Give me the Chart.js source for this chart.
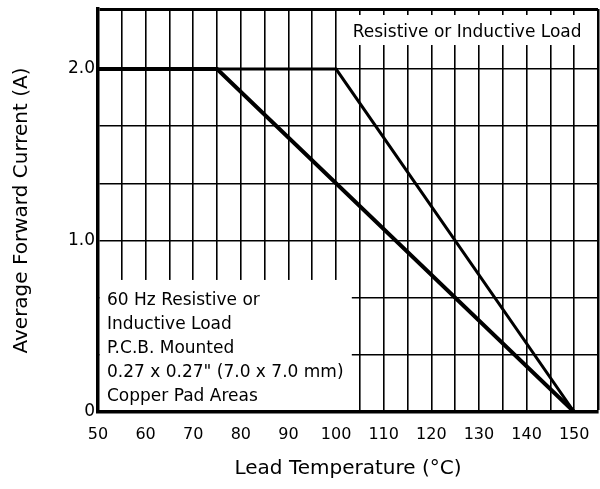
<!DOCTYPE html>
<html>
<head>
<meta charset="utf-8">
<script src="https://cdn.jsdelivr.net/npm/chart.js@4.4.1/dist/chart.umd.min.js"></script>
<style>
  html, body { margin: 0; padding: 0; background: #fff; }
  #wrap { width: 600px; height: 489px; }
</style>
</head>
<body>
<div id="wrap"><canvas id="derating" width="600" height="489"></canvas></div>
<script>
// grid / tick positions
const xGridValues = [50, 55, 60, 65, 70, 75, 80, 85, 90, 95, 100, 105, 110, 115, 120, 125, 130, 135, 140, 145, 150, 155];
const xLabelValues = [50, 60, 70, 80, 90, 100, 110, 120, 130, 140, 150];
const yGridValues = [0, 1 / 3, 2 / 3, 1, 4 / 3, 5 / 3, 2, 2.35];
const yLabelValues = [0, 1, 2];
const yLabelTexts = ['0', '1.0', '2.0'];

// derating curves
const pcbTemps = [50, 75, 150];
const pcbCurrent = [2.0, 2.0, 0];
const loadTemps = [50, 100, 150];
const loadCurrent = [2.0, 2.0, 0];

const topNote = 'Resistive or Inductive Load';
const boxNoteLines = [
  '60 Hz Resistive or',
  'Inductive Load',
  'P.C.B. Mounted',
  '0.27 x 0.27" (7.0 x 7.0 mm)',
  'Copper Pad Areas',
];

const FONT = '"DejaVu Sans", sans-serif';

function toPoints(xs, ys) {
  return xs.map((v, i) => ({ x: v, y: ys[i] }));
}

// white note boxes sit over the grid, under the curves
const notesPlugin = {
  id: 'notes',
  beforeDatasetsDraw(chart) {
    const { ctx } = chart;
    const { x, y } = chart.scales;
    ctx.save();
    ctx.fillStyle = '#fff';

    const tx0 = x.getPixelForValue(101.6);
    const tx1 = x.getPixelForValue(155) - 1.5;
    const ty0 = y.getPixelForValue(2.315);
    const ty1 = y.getPixelForValue(2.14);
    ctx.fillRect(tx0, ty0, tx1 - tx0, ty1 - ty0);

    const bx0 = x.getPixelForValue(50) + 2;
    const bx1 = x.getPixelForValue(103.3);
    const by0 = y.getPixelForValue(0.77);
    const by1 = y.getPixelForValue(0) - 2;
    ctx.fillRect(bx0, by0, bx1 - bx0, by1 - by0);

    ctx.fillStyle = '#000';
    ctx.font = '17px ' + FONT;
    ctx.textBaseline = 'alphabetic';
    ctx.textAlign = 'left';
    ctx.fillText(topNote, tx0 + 9, ty0 + 22);
    boxNoteLines.forEach((t, i) => {
      ctx.fillText(t, bx0 + 7, by0 + 25 + i * 24);
    });
    ctx.restore();
  },
};

new Chart(document.getElementById('derating').getContext('2d'), {
  type: 'line',
  data: {
    datasets: [
      {
        label: 'Resistive or Inductive Load',
        data: toPoints(loadTemps, loadCurrent),
        borderColor: '#000',
        borderWidth: 3,
        borderJoinStyle: 'miter',
        fill: false,
        pointRadius: 0,
        tension: 0,
      },
      {
        label: 'P.C.B. Mounted',
        data: toPoints(pcbTemps, pcbCurrent),
        borderColor: '#000',
        borderWidth: 4,
        borderJoinStyle: 'miter',
        fill: false,
        pointRadius: 0,
        tension: 0,
      },
    ],
  },
  options: {
    responsive: false,
    animation: false,
    devicePixelRatio: 1,
    layout: { padding: { top: 9, right: 2, left: 0, bottom: 0 } },
    plugins: {
      legend: { display: false },
      tooltip: { enabled: false },
    },
    scales: {
      x: {
        type: 'linear',
        min: 50,
        max: 155,
        afterBuildTicks(scale) {
          scale.ticks = xGridValues.map((v) => ({ value: v }));
        },
        afterFit(scale) {
          scale.height = 77;
          scale.paddingLeft = 0;
          scale.paddingRight = 0;
        },
        grid: {
          color: '#000',
          lineWidth: (c) => (c.tick && c.tick.value === 155 ? 2.5 : 1.6),
          drawTicks: false,
        },
        border: { display: true, color: '#000', width: 3.5 },
        ticks: {
          autoSkip: false,
          maxRotation: 0,
          padding: 13,
          color: '#000',
          font: { family: FONT, size: 16 },
          callback(value) {
            return xLabelValues.includes(value) ? String(value) : '';
          },
        },
        title: {
          display: true,
          text: 'Lead Temperature (°C)',
          color: '#000',
          font: { family: FONT, size: 20 },
          padding: { top: 0, bottom: 8 },
        },
      },
      y: {
        type: 'linear',
        min: 0,
        max: 2.35,
        afterBuildTicks(scale) {
          scale.ticks = yGridValues.map((v) => ({ value: v }));
        },
        afterFit(scale) {
          scale.width = 98;
          scale.paddingTop = 0;
          scale.paddingBottom = 0;
        },
        grid: {
          color: '#000',
          lineWidth: (c) => (c.tick && c.tick.value === 2.35 ? 3 : 1.6),
          drawTicks: false,
        },
        border: { display: true, color: '#000', width: 3.5 },
        ticks: {
          autoSkip: false,
          padding: 3,
          color: '#000',
          font: { family: FONT, size: 17 },
          callback(value) {
            const i = yLabelValues.findIndex((v) => Math.abs(v - value) < 1e-6);
            return i >= 0 ? yLabelTexts[i] : '';
          },
        },
        title: {
          display: true,
          text: 'Average Forward Current (A)',
          color: '#000',
          font: { family: FONT, size: 20 },
          padding: { top: 10, bottom: 0 },
        },
      },
    },
  },
  plugins: [notesPlugin],
});
</script>
</body>
</html>
